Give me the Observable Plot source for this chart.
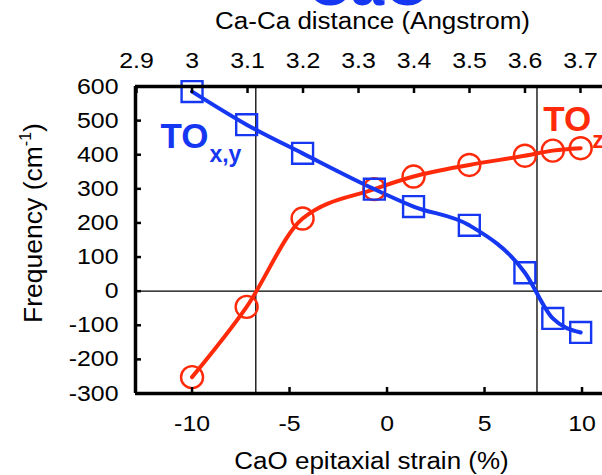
<!DOCTYPE html>
<html><head><meta charset="utf-8">
<script src="https://cdn.jsdelivr.net/npm/d3@7"></script>
<script src="https://cdn.jsdelivr.net/npm/@observablehq/plot@0.6"></script>
<style>
html,body{margin:0;padding:0;background:#fff;overflow:hidden;}
#chart{position:relative;width:602px;height:475px;}
</style></head><body><div id="chart"></div>
<script>
// CaO epitaxial strain (%) at each computed point
const strain = [-10, -7.2, -4.33, -0.65, 1.36, 4.22, 7.07, 8.5, 9.93];
// TO x,y mode frequency (cm^-1)
const toXY = [585, 488, 404, 299, 248, 193, 54, -80, -121];
// TO z mode frequency (cm^-1)
const toZ = [-252, -46, 213, 299, 336, 370, 397, 412, 419];
// strains where a mode goes soft (frequency crosses zero)
const transitions = [-6.73, 7.69];

const bottomTicks = [-10, -5, 0, 5, 10];
const leftTicks = [-300, -200, -100, 0, 100, 200, 300, 400, 500, 600];
const topTicks = [2.9, 3.0, 3.1, 3.2, 3.3, 3.4, 3.5, 3.6, 3.7];
// Ca-Ca distance -> strain conversion
const d0 = 3.3514, k = 28.46;
const toStrain = d => (d - d0) * k;
const toDist = s => s / k + d0;

const xDomain = [-12.9, 11.05];
const yDomain = [-300, 600];

// label annotations [strain, frequency]
const labelTOxy = [-11.62, 421];
const labelTOxySub = [-9.11, 378];
const labelTOz = [8.01, 471];
const labelTOzSub = [10.53, 421];

const blue = "#1537f2";
const red = "#ff2a0a";
const font = "Liberation Sans, Arial, Helvetica, sans-serif";

const rowsXY = strain.map((s, i) => ({s, f: toXY[i]}));
const rowsZ = strain.map((s, i) => ({s, f: toZ[i]}));

const chart = Plot.plot({
  width: 602, height: 475,
  marginLeft: 135, marginRight: 0, marginTop: 86, marginBottom: 82,
  style: {fontFamily: font, background: "white", color: "black"},
  x: {domain: xDomain},
  y: {domain: yDomain},
  marks: [
    Plot.ruleY([0], {stroke: "black", strokeWidth: 1.3}),
    Plot.ruleX(transitions, {stroke: "black", strokeWidth: 1.3}),
    Plot.line(rowsZ, {x: "s", y: "f", stroke: red, strokeWidth: 4, curve: "monotone-x"}),
    Plot.line(rowsXY, {x: "s", y: "f", stroke: blue, strokeWidth: 4, curve: "monotone-x"}),
    Plot.dot(rowsZ, {x: "s", y: "f", r: 11, stroke: red, strokeWidth: 2.4, fill: "none"}),
    Plot.dot(rowsXY, {x: "s", y: "f", symbol: "square", r: 11.8, stroke: blue, strokeWidth: 2.4, fill: "none"}),
    // frame (left, top, bottom)
    Plot.ruleY(yDomain, {stroke: "black", strokeWidth: 3.5}),
    Plot.ruleX([xDomain[0]], {stroke: "black", strokeWidth: 3.5}),
    // axes with inward ticks
    Plot.axisX({ticks: bottomTicks, tickSize: -6, tickPadding: 28, fontSize: 22, strokeWidth: 2.5, label: null, tickFormat: d => String(d)}),
    Plot.axisX({anchor: "top", ticks: topTicks.map(toStrain), tickSize: -6, tickPadding: 25, fontSize: 22, strokeWidth: 2.5, label: null,
      tickFormat: d => String(+toDist(d).toFixed(1))}),
    Plot.axisY({ticks: leftTicks, tickSize: -6, tickPadding: 23, fontSize: 22, strokeWidth: 2.5, label: null, tickFormat: d => String(d)}),
    // axis titles
    Plot.text(["CaO epitaxial strain (%)"], {frameAnchor: "bottom", dx: 2.5, dy: 75, lineAnchor: "bottom", fontSize: 23, fill: "black"}),
    Plot.text(["Ca-Ca distance (Angstrom)"], {frameAnchor: "top", dx: 3.5, dy: -58, lineAnchor: "bottom", fontSize: 23, fill: "black"}),
    Plot.text(["CaO"], {frameAnchor: "top", dy: -82, lineAnchor: "bottom", fontSize: 60, fontWeight: "bold", fill: blue}),
    Plot.text(["Frequency (cm^-1)"], {frameAnchor: "left", dx: -102, dy: -17, rotate: -90, textAnchor: "middle", lineAnchor: "middle", fontSize: 26.5, fill: "black"}),
    // mode labels
    Plot.text([labelTOxy], {x: d => d[0], y: d => d[1], text: () => "TO", textAnchor: "start", lineAnchor: "bottom", fontSize: 35, fontWeight: "bold", fill: blue}),
    Plot.text([labelTOxySub], {x: d => d[0], y: d => d[1], text: () => "x,y", textAnchor: "start", lineAnchor: "bottom", fontSize: 23, fontWeight: "bold", fill: blue}),
    Plot.text([labelTOz], {x: d => d[0], y: d => d[1], text: () => "TO", textAnchor: "start", lineAnchor: "bottom", fontSize: 35, fontWeight: "bold", fill: red}),
    Plot.text([labelTOzSub], {x: d => d[0], y: d => d[1], text: () => "z", textAnchor: "start", lineAnchor: "bottom", fontSize: 23, fontWeight: "bold", fill: red})
  ]
});

// superscript for the frequency unit
d3.select(chart).selectAll("text").filter(function () { return this.textContent === "Frequency (cm^-1)"; })
  .each(function () {
    const t = d3.select(this);
    t.text("Frequency (cm");
    t.append("tspan").attr("font-size", 16).attr("dy", -11).text("-1");
    t.append("tspan").attr("dy", 11).text(")");
  });

document.getElementById("chart").appendChild(chart);

// the reference typeface is slightly wider than Liberation Sans: widen plain black texts a little
d3.select(chart).selectAll("text").each(function () {
  if (this.children.length) return;
  const fill = this.getAttribute("fill") || (this.parentNode && this.parentNode.getAttribute("fill"));
  if (fill && fill !== "currentColor" && fill !== "black") return;
  const len = this.getComputedTextLength();
  if (len > 0) {
    this.setAttribute("textLength", (len * 1.13).toFixed(1));
    this.setAttribute("lengthAdjust", "spacingAndGlyphs");
  }
});
</script></body></html>
